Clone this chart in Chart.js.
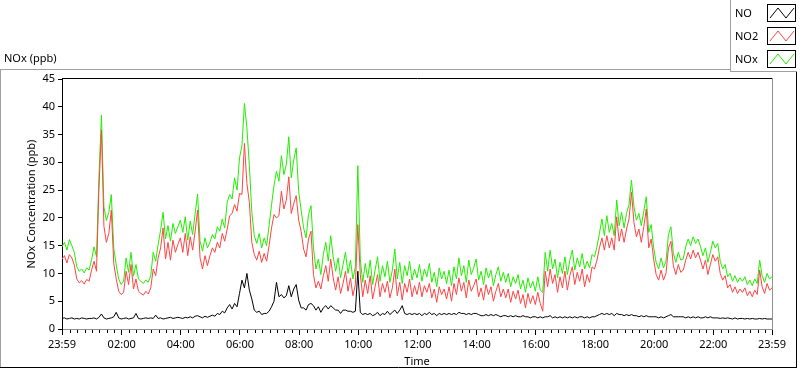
<!DOCTYPE html>
<html lang="en">
<head>
  <meta charset="UTF-8">
  <title>NOx (ppb)</title>
  <script src="https://cdn.jsdelivr.net/npm/chart.js"></script>
  <style>
    html, body {
      margin: 0;
      padding: 0;
      background: #fff;
    }
    #chartBox {
      width: 800px;
      height: 369px;
    }
  </style>
</head>
<body>
  <div id="chartBox">
    <canvas id="noxChart" width="800" height="369"></canvas>
  </div>

  <script>
    // 5-minute values, 23:59 (previous day) -> 23:59
    const NO = [
      1.9, 2.0, 1.8, 1.9, 2.0, 1.8, 1.9, 1.8, 2.0, 1.9, 1.8, 1.9,
      1.9, 2.0, 1.8, 2.1, 2.7, 2.0, 1.8, 1.9, 2.0, 2.2, 3.0, 2.0,
      1.8, 1.9, 2.0, 1.8, 1.9, 2.0, 2.8, 1.9, 1.8, 1.9, 2.0, 1.9,
      2.0, 1.9, 2.5, 1.9, 2.0, 1.8, 1.9, 2.0, 2.1, 1.9, 2.0, 2.1,
      2.0, 1.9, 2.1, 2.0, 2.2, 2.0, 2.3, 2.4, 2.2, 2.0, 2.3, 2.1,
      2.3, 2.5, 2.3, 2.8, 2.6, 3.2, 2.9, 3.8, 4.4, 3.6, 4.6, 4.0,
      6.4, 8.8, 7.4, 10.0, 7.0, 5.4, 3.4, 3.0, 3.2, 2.6, 2.8, 2.8,
      3.2, 4.0, 5.0, 8.4, 5.8, 6.2, 5.6, 6.0, 7.8, 5.8, 7.2, 8.0,
      5.2, 3.8, 3.8, 3.4, 4.4, 4.6, 4.2, 3.4, 4.0, 3.0, 3.8, 4.2,
      3.6, 4.2, 3.8, 3.4, 3.4, 2.8, 3.4, 3.4, 3.2, 3.2, 3.0, 3.2,
      10.4, 3.0, 2.6, 2.8, 2.6, 2.8, 2.4, 2.6, 3.0, 2.4, 2.8, 2.6,
      3.2, 2.6, 3.0, 3.4, 2.8, 3.4, 4.2, 2.8, 2.6, 2.8, 2.6, 2.8,
      2.6, 2.8, 2.4, 2.8, 2.6, 3.0, 2.6, 2.8, 2.4, 2.8, 2.6, 2.8,
      2.6, 2.8, 2.6, 2.8, 2.6, 3.0, 2.8, 2.8, 2.6, 2.8, 2.6, 2.8,
      2.8, 2.6, 2.4, 2.4, 2.6, 2.4, 2.6, 2.4, 2.6, 2.4, 2.2, 2.4,
      2.4, 2.2, 2.4, 2.2, 2.4, 2.2, 2.2, 2.4, 2.2, 2.2, 2.0, 2.2,
      2.2, 2.0, 2.2, 2.0, 2.2, 2.2, 2.4, 2.0, 2.2, 2.0, 2.2, 2.0,
      2.2, 2.0, 2.2, 2.0, 2.2, 2.0, 2.2, 2.2, 2.0, 2.2, 2.0, 2.2,
      2.2, 2.4, 2.6, 2.8, 2.6, 2.8, 2.6, 2.8, 2.4, 2.8, 2.6, 2.6,
      2.4, 2.6, 2.4, 2.6, 2.4, 2.4, 2.2, 2.4, 2.2, 2.4, 2.2, 2.2,
      2.2, 2.2, 2.0, 2.2, 2.0, 2.2, 2.4, 2.6, 2.2, 2.2, 2.2, 2.2,
      2.2, 2.0, 2.2, 2.0, 2.2, 2.0, 2.2, 2.0, 2.0, 2.2, 2.0, 2.2,
      2.0, 2.0, 2.0, 1.9, 2.0, 1.9, 2.0, 1.9, 1.8, 2.0, 1.8, 1.9,
      1.9, 1.8, 1.9, 1.8, 1.9, 1.8, 1.8, 1.9, 1.8, 1.9, 1.8, 1.8, 1.8
    ];

    const NO2 = [
      12.6, 13.2, 11.9, 13.4, 12.8, 11.5, 9.0, 8.3, 8.7, 8.1, 8.9, 8.6,
      10.6, 12.2, 10.4, 25.5, 35.8, 18.5, 15.6, 17.2, 21.4, 11.8, 9.0, 6.8,
      6.2, 6.6, 10.4, 8.0, 11.6, 7.2, 9.0, 6.8, 6.4, 6.1, 6.8, 6.3,
      7.4, 10.8, 9.6, 12.8, 14.6, 18.2, 12.6, 15.6, 12.4, 16.0, 13.8, 15.2,
      16.4, 13.8, 17.2, 13.2, 16.6, 14.2, 17.6, 21.4, 12.8, 10.8, 13.2, 11.4,
      13.2, 14.6, 13.8, 15.6, 14.6, 17.2, 15.8, 18.0, 20.4, 20.8, 22.4, 21.2,
      24.4, 24.2, 33.4, 26.2, 22.8, 15.6, 13.4, 12.4, 14.0, 12.0, 13.6, 12.2,
      15.0, 18.2, 20.6, 20.0, 20.4, 24.8, 21.6, 23.2, 27.4, 20.8, 22.6, 24.0,
      19.6, 17.6, 14.4, 13.0, 16.2, 17.6, 9.8, 7.4, 8.6, 7.2, 9.6, 11.4,
      8.6, 12.6, 9.2, 7.0, 9.4, 6.4, 8.2, 10.4, 6.8, 9.2, 6.0, 8.0,
      18.8, 9.8, 5.8, 8.8, 6.4, 9.6, 5.4, 7.6, 9.8, 5.8, 8.2, 6.6,
      8.6, 5.6, 7.4, 10.8, 6.0, 8.4, 5.2, 8.2, 6.6, 9.0, 5.8, 7.8,
      6.2, 8.4, 5.8, 7.8, 6.6, 8.2, 5.6, 7.2, 4.8, 7.6, 6.2, 7.2,
      5.4, 7.6, 5.0, 8.2, 6.2, 9.2, 6.8, 8.4, 5.6, 8.8, 6.8, 7.8,
      9.0, 5.8, 7.4, 5.2, 8.0, 6.2, 7.6, 5.0, 6.8, 8.2, 5.8, 7.2,
      5.6, 7.2, 4.8, 6.8, 5.4, 7.0, 4.6, 6.2, 3.8, 6.4, 4.6, 6.0,
      4.4, 6.6, 4.6, 3.2, 10.4, 7.6, 10.8, 8.2, 9.8, 6.6, 9.4, 7.4,
      10.4, 7.0, 9.6, 11.2, 8.0, 10.2, 8.6, 10.8, 7.6, 9.8, 8.4, 11.2,
      10.8, 12.4, 14.6, 16.4, 14.2, 16.8, 14.6, 16.4, 14.2, 20.2, 15.8, 18.0,
      15.6, 18.0, 19.8, 24.6, 19.2, 16.6, 18.0, 15.6, 18.4, 21.6, 14.6, 16.2,
      12.6, 9.8, 8.8, 10.6, 8.8, 10.0, 14.6, 15.8, 11.4, 9.8, 11.6, 10.2,
      10.6, 12.4, 13.8, 12.6, 14.2, 12.8, 13.8, 12.4, 10.8, 12.4, 9.8, 11.6,
      13.4, 12.2, 13.0, 10.0, 8.8, 9.6, 7.4, 8.0, 6.6, 7.6, 6.4, 7.2,
      6.6, 7.4, 6.0, 6.8, 5.8, 7.0, 6.2, 10.6, 7.6, 6.4, 8.2, 7.0, 7.4
    ];

    const NOx = [
      14.8, 15.6, 14.2, 16.1, 15.0, 13.8, 11.2, 10.4, 10.8, 10.1, 11.0, 10.6,
      12.5, 14.8, 13.0, 27.5, 38.5, 22.0, 19.5, 21.0, 24.2, 14.5, 11.5, 9.0,
      8.0, 8.6, 12.8, 10.2, 13.8, 9.5, 11.6, 9.0, 8.6, 8.2, 8.8, 8.4,
      9.6, 13.8, 12.2, 15.2, 17.8, 21.0, 16.2, 18.6, 15.8, 19.0, 17.2, 18.4,
      19.6, 17.4, 20.2, 16.0, 19.4, 17.0, 20.8, 24.3, 15.8, 14.0, 16.4, 14.6,
      15.6, 17.0, 16.2, 18.4, 17.6, 19.8, 18.2, 22.8, 24.2, 23.4, 27.2, 25.0,
      30.8, 33.0, 40.6, 36.2, 29.4, 21.0, 16.8, 15.4, 17.2, 14.6, 16.4, 15.0,
      18.6, 22.4, 25.8, 28.4, 26.6, 31.2, 27.8, 29.6, 34.6, 27.2, 30.4, 32.6,
      24.8, 21.4, 18.2, 16.4, 20.6, 22.2, 14.6, 10.8, 12.6, 9.8, 13.4, 15.6,
      12.2, 16.8, 13.0, 10.4, 12.8, 9.2, 11.6, 13.8, 10.0, 12.4, 9.0, 11.2,
      29.4, 12.6, 8.4, 11.8, 9.2, 12.4, 8.0, 10.6, 13.0, 8.6, 11.4, 9.4,
      12.2, 8.4, 10.6, 14.4, 9.0, 12.0, 8.2, 11.4, 9.6, 12.2, 8.8, 10.8,
      9.2, 11.6, 8.6, 10.8, 9.4, 11.8, 8.4, 10.2, 7.6, 11.0, 9.0, 10.4,
      8.2, 10.6, 7.8, 11.2, 9.0, 12.8, 9.6, 11.4, 8.4, 12.4, 9.8, 11.0,
      12.6, 8.8, 10.4, 8.0, 11.0, 9.2, 10.6, 7.8, 9.8, 11.2, 8.6, 10.2,
      8.4, 10.0, 7.6, 9.4, 8.2, 9.8, 7.2, 8.8, 6.6, 9.2, 7.4, 8.6,
      6.8, 9.4, 7.0, 6.6, 13.8, 10.4, 14.2, 10.8, 12.6, 9.2, 12.0, 10.0,
      13.0, 9.8, 12.4, 14.2, 10.6, 12.8, 11.2, 13.6, 10.8, 12.2, 11.0, 13.4,
      13.0, 14.8, 17.2, 19.8, 16.8, 20.4, 17.4, 19.0, 16.8, 23.2, 18.6, 21.0,
      18.2, 20.8, 22.4, 26.8, 22.0, 19.6, 20.8, 18.6, 21.2, 23.8, 17.4, 18.8,
      14.6, 12.0, 10.8, 12.8, 11.0, 12.2, 17.0, 18.4, 13.6, 12.0, 13.8, 12.4,
      12.6, 14.8, 16.2, 15.0, 16.6, 15.4, 16.2, 14.8, 13.2, 14.6, 12.0, 13.8,
      15.8, 14.6, 15.4, 12.2, 10.8, 11.6, 9.4, 10.0, 8.6, 9.6, 8.4, 9.2,
      8.6, 9.4, 8.0, 8.8, 7.8, 9.0, 8.2, 12.4, 9.6, 8.4, 10.0, 9.0, 9.4
    ];

    const seriesNames = ['NO', 'NO2', 'NOx'];
    const seriesColors = ['#000000', '#ff4444', '#22ee00'];

    // x axis in minutes after midnight; -1 is 23:59 of the day before
    const xMajorTicks = [-1, 120, 240, 360, 480, 600, 720, 840, 960, 1080, 1200, 1320, 1439];
    const yTickValues = [0, 5, 10, 15, 20, 25, 30, 35, 40, 45];

    const FONT = '"Noto Sans", "Open Sans", sans-serif';
    const FONT_SIZE = 11;

    const times = NOx.map((v, i) => i * 5 - 1);
    const toPoints = arr => arr.map((v, i) => ({ x: times[i], y: v }));

    function timeLabel(v) {
      if (v < 0 || v >= 1439) return '23:59';
      const h = Math.floor(v / 60);
      return (h < 10 ? '0' : '') + h + ':00';
    }

    // frame, minor ticks, top title and the little legend box
    const decorations = {
      id: 'decorations',
      beforeDraw(chart) {
        const ctx = chart.ctx;
        ctx.save();
        ctx.fillStyle = '#fff';
        ctx.fillRect(0, 0, chart.width, chart.height);
        ctx.restore();
      },
      afterDraw(chart) {
        const ctx = chart.ctx;
        const area = chart.chartArea;
        const xs = chart.scales.x;
        ctx.save();

        // outer panel
        ctx.lineWidth = 1;
        ctx.strokeStyle = '#a0a0a0';
        ctx.beginPath();
        ctx.moveTo(0, 69.5); ctx.lineTo(730, 69.5);
        ctx.moveTo(0.5, 69); ctx.lineTo(0.5, 368);
        ctx.stroke();
        ctx.strokeStyle = '#000';
        ctx.beginPath();
        ctx.moveTo(0, 367.5); ctx.lineTo(797, 367.5);
        ctx.moveTo(796.5, 72); ctx.lineTo(796.5, 368);
        ctx.stroke();

        // plot frame top and right
        ctx.strokeStyle = '#000';
        ctx.beginPath();
        ctx.moveTo(area.left, Math.round(area.top) - 0.5);
        ctx.lineTo(Math.round(area.right) + 1, Math.round(area.top) - 0.5);
        ctx.stroke();
        ctx.strokeStyle = '#909090';
        ctx.beginPath();
        ctx.moveTo(Math.round(area.right) + 0.5, area.top - 1);
        ctx.lineTo(Math.round(area.right) + 0.5, area.bottom + 1);
        ctx.stroke();

        // minor ticks every 15 minutes
        ctx.strokeStyle = '#000';
        ctx.beginPath();
        for (let t = 15; t < 1439; t += 15) {
          if (t % 120 === 0) continue;
          const px = Math.round(xs.getPixelForValue(t)) + 0.5;
          ctx.moveTo(px, area.bottom + 1);
          ctx.lineTo(px, area.bottom + 4);
        }
        ctx.stroke();

        // graph title
        ctx.fillStyle = '#000';
        ctx.font = FONT_SIZE + 'px ' + FONT;
        ctx.textBaseline = 'middle';
        ctx.textAlign = 'left';
        ctx.fillText('NOx (ppb)', 4, 59);

        // legend
        ctx.fillStyle = '#fff';
        ctx.fillRect(731, 0, 66, 71);
        ctx.strokeStyle = '#a0a0a0';
        ctx.beginPath();
        ctx.moveTo(730.5, 0); ctx.lineTo(730.5, 72);
        ctx.moveTo(730, 71.5); ctx.lineTo(797, 71.5);
        ctx.stroke();

        chart.data.datasets.forEach((ds, i) => {
          const rowY = 13 + i * 23;
          ctx.fillStyle = '#000';
          ctx.fillText(ds.label, 735, rowY + 1);
          ctx.strokeStyle = '#000';
          ctx.strokeRect(767.5, rowY - 8.5, 28, 17);
          ctx.strokeStyle = ds.borderColor;
          ctx.beginPath();
          ctx.moveTo(770, rowY + 5);
          ctx.lineTo(778, rowY - 5);
          ctx.lineTo(786, rowY + 5);
          ctx.lineTo(794, rowY - 5);
          ctx.stroke();
        });

        ctx.restore();
      }
    };

    const ctx = document.getElementById('noxChart').getContext('2d');

    new Chart(ctx, {
      type: 'line',
      data: {
        datasets: [NO, NO2, NOx].map((arr, i) => ({
          label: seriesNames[i],
          data: toPoints(arr),
          borderColor: seriesColors[i],
          borderWidth: 1,
          pointRadius: 0,
          tension: 0,
          fill: false
        }))
      },
      options: {
        responsive: false,
        animation: false,
        events: [],
        layout: {
          padding: { top: 79, right: 28, left: 0, bottom: 0 }
        },
        plugins: {
          legend: { display: false },
          tooltip: { enabled: false },
          title: { display: false }
        },
        scales: {
          x: {
            type: 'linear',
            min: -1,
            max: 1439,
            afterBuildTicks: s => { s.ticks = xMajorTicks.map(v => ({ value: v })); },
            afterFit: s => { s.height = 40; },
            grid: {
              drawOnChartArea: false,
              drawTicks: true,
              tickLength: 6,
              tickColor: '#000'
            },
            border: { display: true, color: '#909090' },
            ticks: {
              autoSkip: false,
              maxRotation: 0,
              padding: 3,
              color: '#000',
              font: { family: FONT, size: FONT_SIZE },
              callback: v => timeLabel(v)
            },
            title: {
              display: true,
              text: 'Time',
              color: '#000',
              font: { family: FONT, size: FONT_SIZE },
              padding: { top: 0, bottom: 1 }
            }
          },
          y: {
            min: 0,
            max: 45,
            afterBuildTicks: s => { s.ticks = yTickValues.map(v => ({ value: v })); },
            afterFit: s => { s.width = 62; },
            grid: {
              drawOnChartArea: false,
              drawTicks: true,
              tickLength: 4,
              tickColor: '#000'
            },
            border: { display: true, color: '#000' },
            ticks: {
              padding: 3,
              color: '#000',
              font: { family: FONT, size: FONT_SIZE }
            },
            title: {
              display: true,
              text: 'NOx Concentration (ppb)',
              color: '#000',
              font: { family: FONT, size: FONT_SIZE },
              padding: { top: 25, bottom: 0 }
            }
          }
        }
      },
      plugins: [decorations]
    });
  </script>
</body>
</html>
